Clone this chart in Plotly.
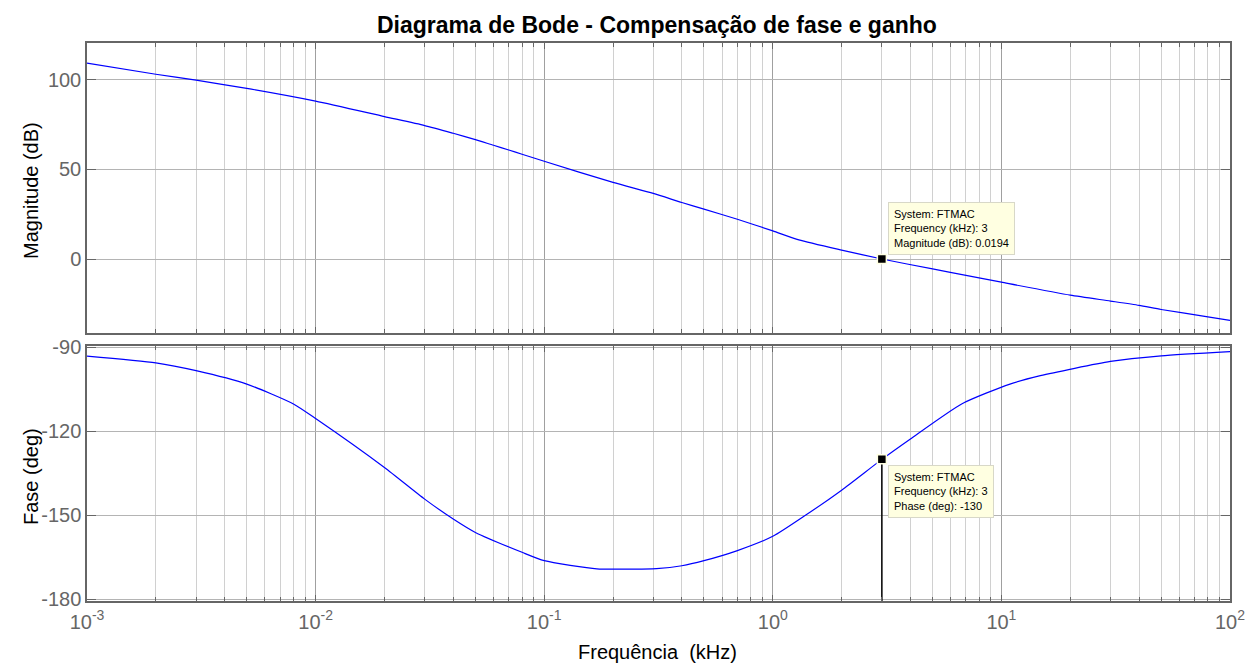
import plotly.graph_objects as go
import numpy as np

# ---- data ----
freq_mag = [0.001, 0.002, 0.003, 0.005, 0.01, 0.02, 0.03, 0.04, 0.05, 0.06, 0.07, 0.08,
            0.1, 0.2, 0.3, 0.4, 0.5, 0.7, 1.0, 1.3, 2.0, 3.0, 5.0, 7.0, 10, 20, 30, 40, 50, 80, 100]
mag_db = [109.2, 103.0, 99.7, 95.1, 88.0, 79.4, 74.4, 70.1, 66.6, 63.4, 60.8, 58.4,
          54.5, 42.7, 36.6, 31.5, 27.8, 22.2, 15.7, 10.7, 5.0, 0.02, -5.5, -9.1, -12.9,
          -20.1, -23.4, -25.8, -28.1, -32.2, -34.2]

freq_ph = [0.001, 0.002, 0.003, 0.005, 0.008, 0.01, 0.02, 0.03, 0.04, 0.05, 0.08, 0.1,
           0.17, 0.23, 0.31, 0.4, 0.5, 0.7, 1.0, 1.4, 2.0, 3.0, 4.0, 6.7, 10.9, 14.8, 30, 50, 100]
phase_deg = [-93.1, -95.5, -98.3, -103.1, -110.2, -115.4, -132.9, -144.2, -151.3, -156.1,
             -163.2, -166.2, -169.1, -169.2, -169.0, -168.0, -166.2, -162.6, -157.5, -149.8,
             -141.0, -130.0, -122.7, -110.2, -103.1, -100.1, -95.0, -93.0, -91.5]

tip_freq = 3
tip_mag = 0.0194
tip_phase = -130

x_tickvals = [0.001, 0.01, 0.1, 1, 10, 100]
x_ticktext = ["10<sup>-3</sup>", "10<sup>-2</sup>", "10<sup>-1</sup>", "10<sup>0</sup>",
              "10<sup>1</sup>", "10<sup>2</sup>"]
x_minorvals = [m * d for d in [0.001, 0.01, 0.1, 1, 10] for m in range(2, 10)]
mag_ticks = [0, 50, 100]
mag_ticktext = ["0", "50", "100"]
ph_ticks = [-180, -150, -120, -90]
ph_ticktext = ["-180", "-150", "-120", "-90"]

FONT = "Arial, 'Liberation Sans', sans-serif"
AX = "#666666"
BLUE = "#0000FF"
TIPBG = "#FFFFE1"

W, H = 1246, 664
xd = [87 / W, 1230 / W]
yd_top = [1 - 333 / H, 1 - 43 / H]
yd_bot = [1 - 601 / H, 1 - 346 / H]

fig = go.Figure()
fig.add_trace(go.Scatter(x=freq_mag, y=mag_db, mode="lines",
                         line=dict(color=BLUE, width=1.2, shape="spline", smoothing=0.6),
                         xaxis="x", yaxis="y", showlegend=False))
fig.add_trace(go.Scatter(x=freq_ph, y=phase_deg, mode="lines",
                         line=dict(color=BLUE, width=1.2, shape="spline", smoothing=0.6),
                         xaxis="x2", yaxis="y2", showlegend=False))
# vertical line from phase data tip down
fig.add_trace(go.Scatter(x=[tip_freq, tip_freq], y=[tip_phase, -185], mode="lines",
                         line=dict(color="black", width=1.5), xaxis="x2", yaxis="y2", showlegend=False))
# data tip markers
fig.add_trace(go.Scatter(x=[tip_freq], y=[tip_mag], mode="markers",
                         marker=dict(symbol="square", size=9, color="black", line=dict(color=TIPBG, width=1.5)),
                         xaxis="x", yaxis="y", showlegend=False))
fig.add_trace(go.Scatter(x=[tip_freq], y=[tip_phase], mode="markers",
                         marker=dict(symbol="square", size=9, color="black", line=dict(color=TIPBG, width=1.5)),
                         xaxis="x2", yaxis="y2", showlegend=False))

xcommon = dict(type="log", range=[-3, 2], domain=xd, showline=True, linecolor=AX, linewidth=1.5,
               mirror="allticks", ticks="inside", ticklen=6, tickcolor=AX,
               showgrid=True, gridcolor="#a0a0a0", gridwidth=1,
               tickvals=x_tickvals, ticktext=x_ticktext,
               minor=dict(tickvals=x_minorvals, ticks="inside", ticklen=4, tickcolor=AX,
                          showgrid=True, gridcolor="#d0d0d0", gridwidth=1),
               zeroline=False, automargin=False,
               tickfont=dict(family=FONT, size=20, color=AX))

fig.update_layout(
    width=W, height=H, margin=dict(l=0, r=0, t=0, b=0),
    paper_bgcolor="white", plot_bgcolor="white",
    xaxis=dict(xcommon, anchor="y", showticklabels=False),
    xaxis2=dict(xcommon, anchor="y2", showticklabels=True, ticklabelstandoff=2),
    yaxis=dict(domain=yd_top, range=[-41.2, 120.4], anchor="x", showline=True, linecolor=AX, linewidth=1.5,
               mirror="allticks", ticks="inside", ticklen=9, tickcolor=AX,
               tickvals=mag_ticks, ticktext=mag_ticktext,
               showgrid=True, gridcolor="#b4b4b4", zeroline=False, automargin=False,
               tickfont=dict(family=FONT, size=20, color=AX)),
    yaxis2=dict(domain=yd_bot, range=[-180.6, -89.5], anchor="x2", showline=True, linecolor=AX, linewidth=1.5,
                mirror="allticks", ticks="inside", ticklen=9, tickcolor=AX,
                tickvals=ph_ticks, ticktext=ph_ticktext,
                showgrid=True, gridcolor="#b4b4b4", zeroline=False, automargin=False,
                tickfont=dict(family=FONT, size=20, color=AX)),
)

txt = dict(xref="paper", yref="paper", showarrow=False, xanchor="center", yanchor="middle")
annos = [
    dict(txt, text="<b>Diagrama de Bode - Compensação de fase e ganho</b>", x=657 / W, y=1 - 25 / H,
         font=dict(family=FONT, size=23, color="black")),
    dict(txt, text="Frequência\u00a0\u00a0(kHz)", x=657 / W, y=1 - 652 / H,
         font=dict(family=FONT, size=20, color="black")),
    dict(txt, text="Magnitude (dB)", x=31 / W, y=1 - 191 / H, textangle=-90,
         font=dict(family=FONT, size=20, color="black")),
    dict(txt, text="Fase (deg)", x=31 / W, y=1 - 477 / H, textangle=-90,
         font=dict(family=FONT, size=20, color="black")),
    dict(text="System: FTMAC<br>Frequency (kHz): %g<br>Magnitude (dB): %s" % (tip_freq, tip_mag),
         x=np.log10(tip_freq), y=tip_mag, xref="x", yref="y", xanchor="left", yanchor="bottom",
         xshift=6, yshift=4, align="left", showarrow=False, bgcolor=TIPBG, bordercolor="#d8d8c8",
         borderwidth=1, borderpad=5, font=dict(family=FONT, size=11, color="black")),
    dict(text="System: FTMAC<br>Frequency (kHz): %g<br>Phase (deg): %g" % (tip_freq, tip_phase),
         x=np.log10(tip_freq), y=tip_phase, xref="x2", yref="y2", xanchor="left", yanchor="top",
         xshift=6, yshift=-6, align="left", showarrow=False, bgcolor=TIPBG, bordercolor="#d8d8c8",
         borderwidth=1, borderpad=5, font=dict(family=FONT, size=11, color="black")),
]
fig.update_layout(annotations=annos)

fig.write_html("out.html")
